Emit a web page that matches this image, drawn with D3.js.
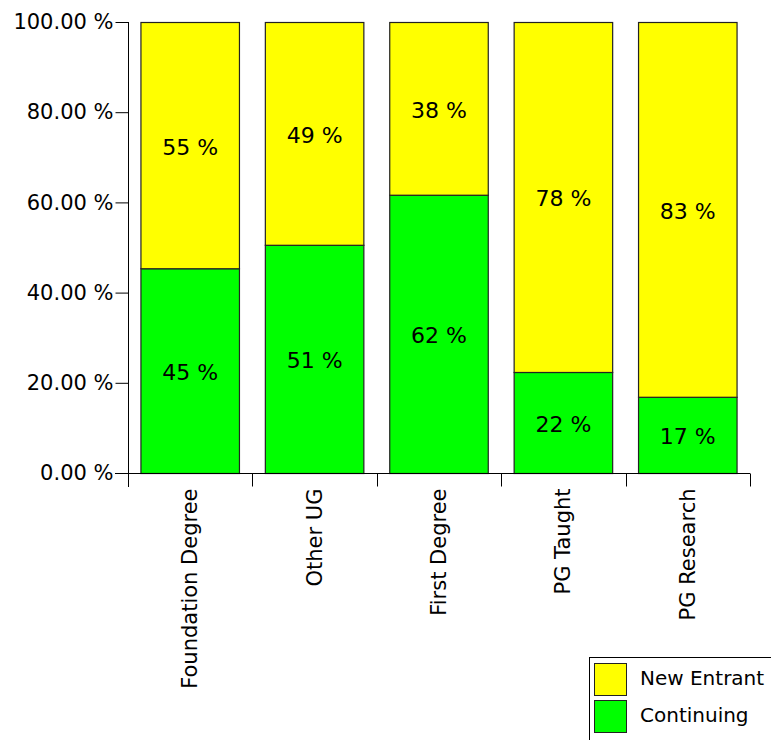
<!DOCTYPE html>
<html><head><meta charset="utf-8">
<script src="https://cdn.jsdelivr.net/npm/d3@7"></script>
<style>body{margin:0;background:#fff}svg{display:block}text{font-family:"DejaVu Sans",Verdana,sans-serif;fill:#000}</style>
</head><body>
<svg id="c" width="771" height="740"></svg>
<script>
const categories = ["Foundation Degree","Other UG","First Degree","PG Taught","PG Research"];
const continuing = [45.4, 50.6, 61.7, 22.4, 16.9];
const newEntrant = [54.6, 49.4, 38.3, 77.6, 83.1];
const yTicks = [0,20,40,60,80,100];
const seriesNames = ["New Entrant","Continuing"];
const colors = {"New Entrant":"#ffff00","Continuing":"#00ff00"};

const svg = d3.select("#c");
const x = d3.scaleBand().domain(categories).range([128,750]).paddingInner(0.2).paddingOuter(0.1);
const y = d3.scaleLinear().domain([0,100]).range([473,22]);

const data = categories.map((c,i)=>({cat:c,"Continuing":continuing[i],"New Entrant":newEntrant[i]}));
const stack = d3.stack().keys(["Continuing","New Entrant"])(data);

const g = svg.append("g");
stack.forEach(s=>{
  g.selectAll(null).data(s).enter().append("rect")
    .attr("x",d=>x(d.data.cat)+0.5)
    .attr("y",d=>y(d[1])+0.5)
    .attr("width",x.bandwidth()-1)
    .attr("height",d=>y(d[0])-y(d[1]))
    .attr("fill",colors[s.key])
    .attr("stroke","#222").attr("stroke-width",1.2);
  g.selectAll(null).data(s).enter().append("text")
    .attr("x",d=>x(d.data.cat)+x.bandwidth()/2)
    .attr("y",d=>(y(d[0])+y(d[1]))/2+2)
    .attr("text-anchor","middle").attr("dominant-baseline","central")
    .style("font-size","22px")
    .text(d=>Math.round(d[1]-d[0])+" %");
});

// y axis
const ya = svg.append("g").attr("transform","translate(128.5,0)")
  .call(d3.axisLeft(y).tickValues(yTicks).tickSize(13).tickPadding(2).tickFormat(d=>d3.format(".2f")(d)+" %"));
ya.select(".domain").attr("d","M0,22V487").attr("stroke","#000");
ya.selectAll(".tick line").attr("stroke","#000");
ya.selectAll(".tick text").style("font-size","21px").attr("font-family",null);

// x axis
const xa = svg.append("g").attr("transform","translate(0,473.5)");
xa.append("line").attr("x1",115).attr("x2",750).attr("stroke","#000");
const bounds = categories.map(c=>x(c)-x.step()*x.paddingInner()/2).concat([750]);
xa.selectAll(null).data(bounds.slice(1)).enter().append("line")
  .attr("x1",d=>Math.round(d)+0.5).attr("x2",d=>Math.round(d)+0.5).attr("y1",0).attr("y2",13).attr("stroke","#000");
xa.selectAll(null).data(categories).enter().append("text")
  .attr("transform",d=>`translate(${x(d)+x.bandwidth()/2},15) rotate(-90)`)
  .attr("text-anchor","end").attr("dominant-baseline","central")
  .style("font-size","21px").text(d=>d);

// legend
const lg = svg.append("g");
lg.append("rect").attr("x",589.5).attr("y",657.5).attr("width",200).attr("height",100).attr("fill","#fff").attr("stroke","#000");
seriesNames.forEach((n,i)=>{
  lg.append("rect").attr("x",594.5).attr("y",663.5+i*37).attr("width",32).attr("height",32)
    .attr("fill",colors[n]).attr("stroke","#222");
  lg.append("text").attr("x",640).attr("y",678+i*37).attr("dominant-baseline","central")
    .style("font-size","20px").text(n);
});
</script>
</body></html>
